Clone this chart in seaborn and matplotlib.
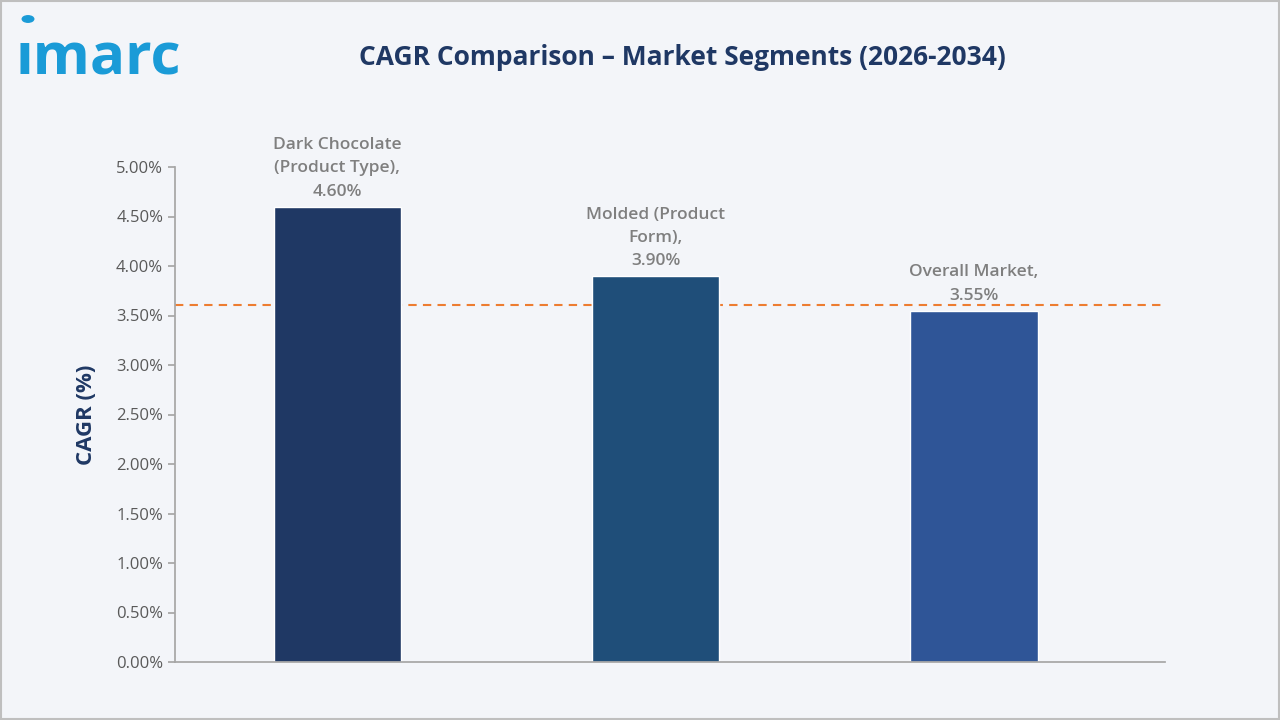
import matplotlib
matplotlib.use("Agg")
import matplotlib.pyplot as plt
import seaborn as sns
import pandas as pd

categories = ["Dark Chocolate\n(Product Type),", "Molded (Product\nForm),", "Overall Market,"]
values = [4.60, 3.90, 3.55]
colors = ["#1f3864", "#1f4e79", "#2f5597"]
ref_line = 3.61
yticks = [0, 0.5, 1, 1.5, 2, 2.5, 3, 3.5, 4, 4.5, 5]

sns.set_theme(style="white")
plt.rcParams['font.family'] = ['Open Sans', 'DejaVu Sans']

fig = plt.figure(figsize=(12.8, 7.2), dpi=100)
bg = "#f3f5f9"
fig.patch.set_facecolor(bg)
ax = fig.add_axes([175/1280, 1-662/720, 990/1280, (662-167)/720])
ax.set_facecolor(bg)
df = pd.DataFrame({"cat": categories, "val": values})
sns.barplot(data=df, x="cat", y="val", hue="cat", palette=colors, width=0.4, legend=False, ax=ax, saturation=1)
ax.set_xlim(-0.51, 2.60)
ax.set_ylim(0, 5)
ax.set_yticks(yticks)
ax.set_yticklabels([f"{v:.2f}%" for v in yticks], fontsize=12, color="#595959")
ax.set_xticks([])
ax.set_xlabel("")
ax.set_ylabel("CAGR (%)", fontsize=16, fontweight="bold", color="#1f3864", labelpad=14)
for s in ["top", "right"]:
    ax.spines[s].set_visible(False)
for s in ["left", "bottom"]:
    ax.spines[s].set_color("#a6a6a6")
ax.tick_params(axis="y", length=5, color="#a6a6a6", left=True)
ax.axhline(ref_line, color="#ed7d31", linestyle=(0, (4, 3)), linewidth=1.5, zorder=0)
for i, (c, v) in enumerate(zip(categories, values)):
    ax.text(i, v + 0.07, f"{c}\n{v:.2f}%", ha="center", va="bottom", fontsize=12.5,
            color="#7f7f7f", fontweight="semibold", linespacing=1.6)

fig.text(0.533, 0.92, "CAGR Comparison – Market Segments (2026-2034)", ha="center", va="center",
         fontsize=19, fontweight="bold", color="#1f3864")
fig.text(0.012, 0.918, "ımarc", ha="left", va="center", fontsize=42, color="#1a9bd7", fontweight="bold")
fig.add_artist(plt.Circle((28/1280, 1-19/720), 0.0045, color="#1a9bd7", transform=fig.transFigure))
fig.add_artist(plt.Rectangle((0.001, 0.001), 0.998, 0.998, fill=False, edgecolor="#bfbfbf",
                             linewidth=1.5, transform=fig.transFigure))
fig.savefig("out.png", dpi=100, facecolor=bg)
